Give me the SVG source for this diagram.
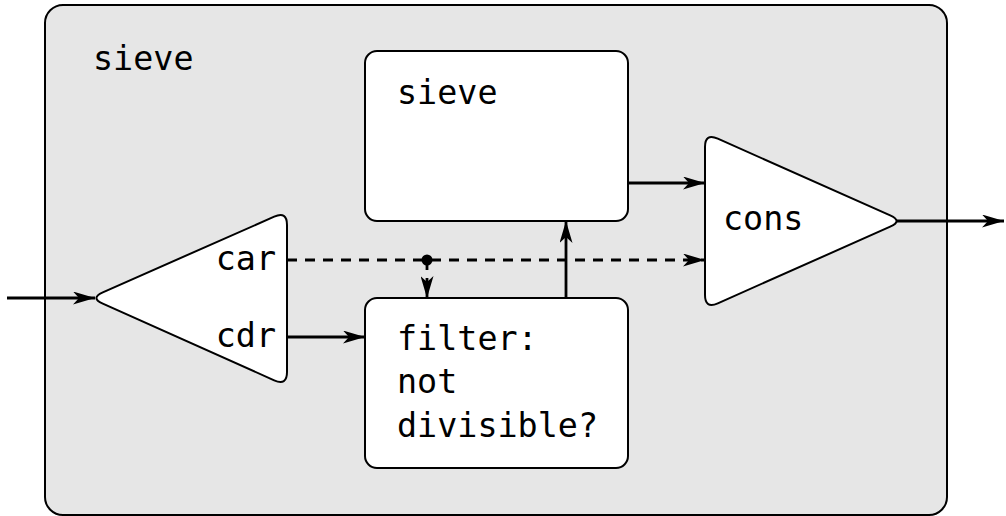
<svg xmlns="http://www.w3.org/2000/svg" width="1006" height="516" viewBox="0 0 1006 516">
<style>
text{font-family:"DejaVu Sans Mono","Liberation Mono",monospace;font-size:33.4px;fill:#000}
.shape{fill:#fff;stroke:#000;stroke-width:2}
.conn{fill:none;stroke:#000;stroke-width:2.8}
.dash{stroke-dasharray:10 8}
</style>
<defs>
<marker id="arr" viewBox="0 0 22 13" refX="22" refY="6.5" markerWidth="22" markerHeight="13" markerUnits="userSpaceOnUse" orient="auto">
<path d="M0,0 L22,6.5 L0,13 L6,6.5 Z" fill="#000"/>
</marker>
</defs>
<g id="outer">
<rect x="45" y="5" width="902" height="510" rx="18" fill="#e6e6e6" stroke="#000" stroke-width="2"/>
<text x="93" y="70">sieve</text>
</g>
<g id="sieve-inner">
<rect class="shape" x="365" y="51" width="263" height="170" rx="12"/>
<text x="397" y="104">sieve</text>
</g>
<g id="filter">
<rect class="shape" x="365" y="298" width="263" height="170" rx="12"/>
<text x="397" y="350">filter:</text>
<text x="397" y="393">not</text>
<text x="397" y="437">divisible?</text>
</g>
<g id="split">
<path class="shape" d="M287,225 L287,372 Q287,386 274.2,380.3 L102.8,303.7 Q90,298 102.8,292.3 L274.2,216.7 Q287,211 287,225 Z"/>
<text x="276" y="270" text-anchor="end">car</text>
<text x="276" y="347" text-anchor="end">cdr</text>
</g>
<g id="cons">
<path class="shape" d="M705,147 L705,295 Q705,309 717.8,303.3 L890.2,226.7 Q903,221 890.2,215.3 L717.8,138.7 Q705,133 705,147 Z"/>
<text x="723" y="230">cons</text>
</g>
<g id="connectors">
<line class="conn" x1="7" y1="298" x2="95" y2="298" marker-end="url(#arr)"/>
<line class="conn" x1="287" y1="337" x2="365" y2="337" marker-end="url(#arr)"/>
<line class="conn dash" x1="287" y1="260" x2="705" y2="260" marker-end="url(#arr)"/>
<circle cx="427" cy="260" r="5.5" fill="#000"/>
<line class="conn" x1="427" y1="260" x2="427" y2="270"/>
<line class="conn" x1="427" y1="278" x2="427" y2="298" marker-end="url(#arr)"/>
<line class="conn" x1="566" y1="298" x2="566" y2="221" marker-end="url(#arr)"/>
<line class="conn" x1="628" y1="183" x2="705" y2="183" marker-end="url(#arr)"/>
<line class="conn" x1="897" y1="221" x2="1004" y2="221" marker-end="url(#arr)"/>
</g>
</svg>
